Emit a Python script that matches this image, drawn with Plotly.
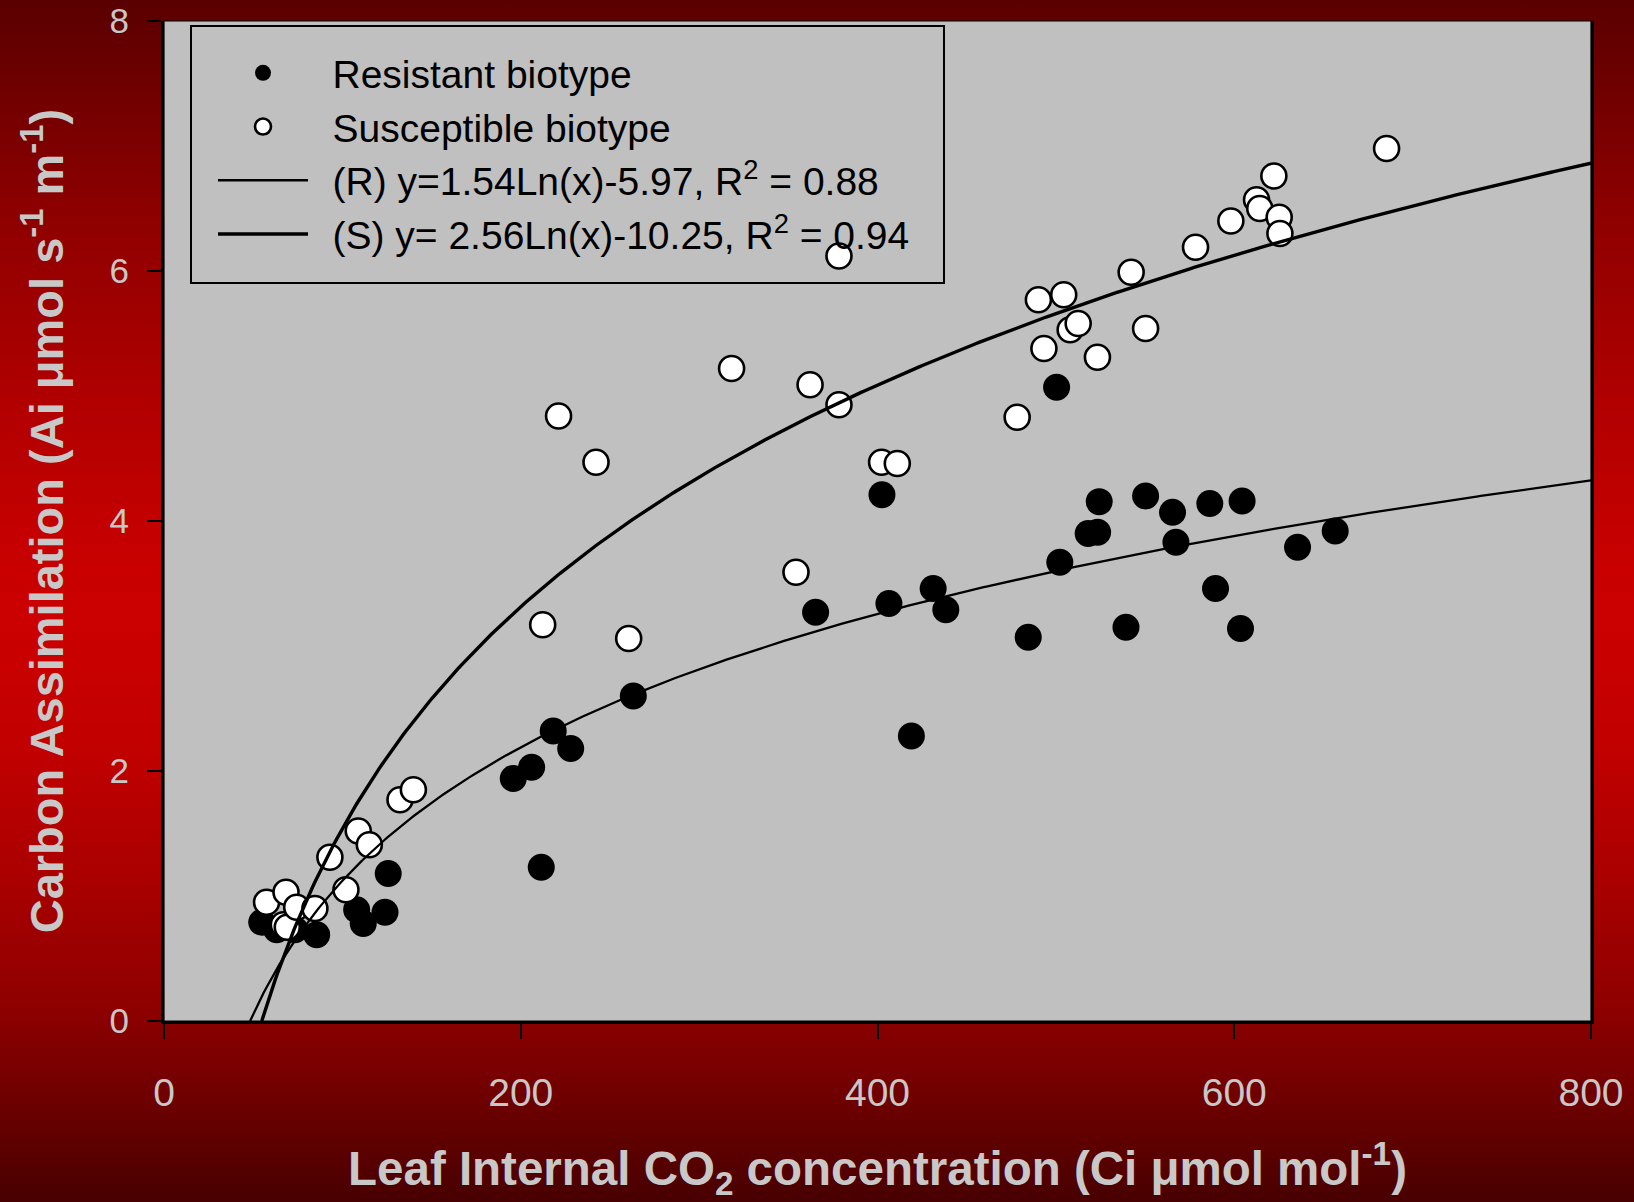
import base64
import numpy as np
import plotly.graph_objects as go

# ---------------- data ----------------
ci_resistant = [54.8, 63.2, 73.4, 85.6, 108.0, 111.7, 123.9, 125.7, 195.8, 206.1,
                211.5, 218.2, 228.0, 263.1, 365.3, 402.5, 406.4, 419.0, 431.2, 438.3,
                484.5, 500.4, 502.2, 518.1, 523.4, 524.3, 539.3, 550.3, 565.4, 567.3,
                586.3, 589.5, 603.5, 604.4, 635.5, 656.6]
a_resistant = [0.79, 0.73, 0.73, 0.69, 0.89, 0.78, 0.87, 1.18, 1.94, 2.03,
               1.23, 2.32, 2.18, 2.60, 3.27, 4.21, 3.34, 2.28, 3.46, 3.29,
               3.07, 5.07, 3.67, 3.90, 3.91, 4.155, 3.15, 4.20, 4.07, 3.83,
               4.14, 3.46, 3.14, 4.16, 3.79, 3.92]

ci_susceptible = [57.5, 66.9, 68.4, 69.1, 74.4, 84.6, 93.0, 102.0, 108.9, 115.1,
                  132.3, 139.8, 212.3, 221.2, 242.2, 260.5, 318.2, 354.3, 362.2, 378.4,
                  378.4, 402.3, 411.1, 478.3, 490.2, 493.3, 504.4, 508.0, 512.5, 523.3,
                  542.2, 550.3, 578.3, 598.1, 612.5, 614.3, 622.2, 625.2, 625.6, 685.4]
a_susceptible = [0.95, 0.77, 1.03, 0.75, 0.91, 0.90, 1.31, 1.05, 1.52, 1.41,
                 1.77, 1.85, 3.17, 4.84, 4.47, 3.06, 5.22, 3.59, 5.09, 4.93,
                 6.12, 4.47, 4.46, 4.83, 5.77, 5.38, 5.81, 5.53, 5.58, 5.31,
                 5.99, 5.54, 6.19, 6.40, 6.57, 6.50, 6.76, 6.43, 6.30, 6.98]

# logarithmic fits stated in the legend: y = slope*ln(x) + intercept
fit_r_slope, fit_r_intercept = 1.54, -5.97
fit_s_slope, fit_s_intercept = 2.56, -10.25

x_tick_vals = [0, 200, 400, 600, 800]
y_tick_vals = [0, 2, 4, 6, 8]
x_range = [0, 800]
y_range = [0, 8]

legend_names = [
    "\u2002Resistant biotype",
    "\u2002Susceptible biotype",
    "\u2002(R) y=1.54Ln(x)-5.97, R<sup>2</sup> = 0.88",
    "\u2002(S) y= 2.56Ln(x)-10.25, R<sup>2</sup> = 0.94",
]
x_title = "Leaf Internal CO<sub>2</sub> concentration (Ci \u03bcmol mol<sup>-1</sup>)"
y_title = "Carbon Assimilation (Ai \u03bcmol s<sup>-1</sup> m<sup>-1</sup>)"


def fit_curve(slope, intercept):
    x0 = np.exp(-intercept / slope)
    xs = np.linspace(x0, x_range[1], 500)
    return xs, slope * np.log(xs) + intercept


xr, yr = fit_curve(fit_r_slope, fit_r_intercept)
xs_, ys_ = fit_curve(fit_s_slope, fit_s_intercept)

# ---------------- styling ----------------
W, H = 1634, 1202
PL, PR, PT, PB = 164, 1591, 21, 1021  # plot area in pixels
label_col = "#c8c8c8"
FONT = "Arial, Liberation Sans, sans-serif"

fig = go.Figure()
fig.add_trace(go.Scatter(
    x=ci_resistant, y=a_resistant, mode="markers", name=legend_names[0],
    marker=dict(size=27, color="black", line=dict(width=0)),
))
fig.add_trace(go.Scatter(
    x=ci_susceptible, y=a_susceptible, mode="markers", name=legend_names[1],
    marker=dict(size=25, color="white", line=dict(width=2.6, color="black")),
))
fig.add_trace(go.Scatter(
    x=xr, y=yr, mode="lines", name=legend_names[2],
    line=dict(color="black", width=2.3),
))
fig.add_trace(go.Scatter(
    x=xs_, y=ys_, mode="lines", name=legend_names[3],
    line=dict(color="black", width=3.4),
))

# vertical red gradient background as an svg image
stops = [(0.00, "#5a0000"), (0.17, "#8c0000"), (0.34, "#b20000"), (0.45, "#c60000"),
         (0.51, "#cc0000"), (0.62, "#c20000"), (0.73, "#aa0000"), (0.84, "#8e0000"),
         (0.92, "#6c0000"), (1.00, "#480000")]
stop_xml = "".join(f"<stop offset='{o}' stop-color='{c}'/>" for o, c in stops)
svg = ("<svg xmlns='http://www.w3.org/2000/svg' width='100' height='100' viewBox='0 0 100 100' "
       "preserveAspectRatio='none'><defs><linearGradient id='g' x1='0' y1='0' x2='0' y2='1'>"
       + stop_xml + "</linearGradient></defs><rect width='100' height='100' fill='url(#g)'/></svg>")
svg_uri = "data:image/svg+xml;base64," + base64.b64encode(svg.encode()).decode()

fig.update_layout(
    width=W, height=H,
    margin=dict(l=0, r=0, t=0, b=0),
    paper_bgcolor="#8a0000",
    plot_bgcolor="rgba(0,0,0,0)",
    font=dict(family=FONT, color=label_col),
    images=[dict(source=svg_uri, xref="paper", yref="paper", x=0, y=1, sizex=1, sizey=1,
                 xanchor="left", yanchor="top", sizing="stretch", layer="below")],
    shapes=[
        dict(type="rect", xref="x domain", yref="y domain", x0=0, x1=1, y0=0, y1=1,
             fillcolor="#c0c0c0", line=dict(color="black", width=1.2), layer="below"),
        dict(type="rect", xref="paper", yref="paper",
             x0=191 / W, x1=944 / W, y0=1 - 283 / H, y1=1 - 26 / H,
             fillcolor="rgba(0,0,0,0)", line=dict(color="black", width=2), layer="above"),
    ],
    showlegend=True,
    legend=dict(
        x=213 / W, y=1 - 41 / H, xanchor="left", yanchor="top",
        bgcolor="rgba(0,0,0,0)", borderwidth=0,
        font=dict(family=FONT, size=39, color="black"),
        itemwidth=90, tracegroupgap=0,
    ),
    xaxis=dict(
        domain=[PL / W, PR / W], range=x_range, tickvals=x_tick_vals,
        ticks="outside", ticklen=15, tickwidth=2, tickcolor="black",
        showline=True, linewidth=3, linecolor="black", mirror=False,
        showgrid=False, zeroline=False, automargin=False,
        tickfont=dict(family=FONT, size=39, color=label_col),
        ticklabelstandoff=20,
        title=dict(text=x_title, standoff=48,
                   font=dict(family=FONT, size=47.5, color=label_col, weight="bold")),
    ),
    yaxis=dict(
        domain=[1 - PB / H, 1 - PT / H], range=y_range, tickvals=y_tick_vals,
        ticks="outside", ticklen=14, tickwidth=2, tickcolor="black",
        showline=True, linewidth=3, linecolor="black", mirror=True,
        showgrid=False, zeroline=False, automargin=False,
        tickfont=dict(family=FONT, size=35, color=label_col),
        ticklabelstandoff=11,
        title=dict(text=y_title, standoff=32,
                   font=dict(family=FONT, size=47, color=label_col, weight="bold")),
    ),
)

fig.write_html("out.html", config={"displayModeBar": False},
               post_script="document.body.style.margin='0px';")
